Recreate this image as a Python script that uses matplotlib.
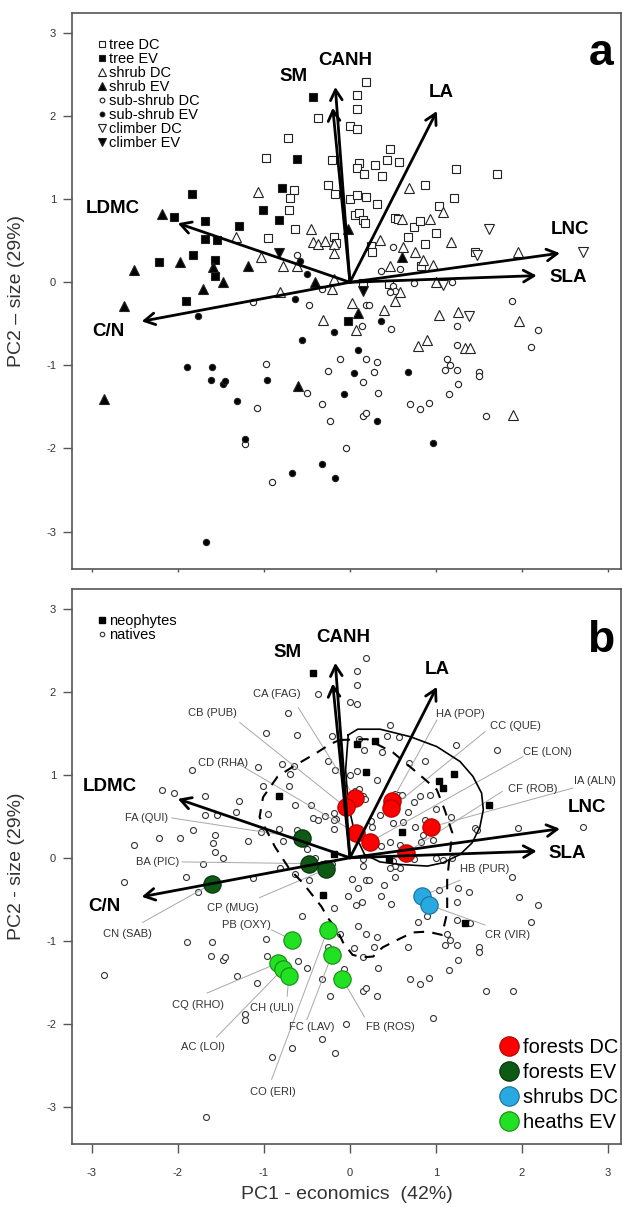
import matplotlib.pyplot as plt
from matplotlib.lines import Line2D

plt.rcParams['font.family'] = ['Liberation Sans', 'DejaVu Sans']
plt.rcParams['axes.unicode_minus'] = False

# species scores: (PC1, PC2, neophyte flag) by growth form and leaf habit
tree_dc = [
    (-0.37, 1.98, 0), (-0.72, 1.74, 0), (-0.98, 1.50, 0), (-0.21, 1.47, 0),
    (-0.25, 1.17, 0), (-0.17, 1.06, 0), (-0.65, 1.11, 0), (-0.70, 1.01, 0),
    (-0.71, 0.87, 0), (-0.64, 0.64, 0), (-0.95, 0.53, 0), (-0.19, 0.54, 0),
    (-0.16, 0.47, 0), (0.19, 2.41, 0), (0.08, 2.25, 0), (0.08, 2.08, 0),
    (0.00, 1.88, 0), (0.08, 1.85, 0), (0.47, 1.60, 0), (0.43, 1.47, 0),
    (0.57, 1.45, 0), (0.10, 1.43, 0), (0.08, 1.37, 1), (0.16, 1.30, 0),
    (0.29, 1.41, 1), (0.37, 1.28, 0), (1.23, 1.36, 0), (1.71, 1.30, 0),
    (0.87, 1.17, 0), (1.21, 1.01, 1), (0.00, 1.00, 0), (0.08, 1.05, 0),
    (0.19, 1.03, 1), (0.31, 0.94, 0), (0.06, 0.81, 0), (0.11, 0.83, 0),
    (0.15, 0.75, 0), (0.18, 0.71, 0), (1.03, 0.92, 1), (0.52, 0.77, 0),
    (0.56, 0.76, 0), (0.74, 0.67, 0), (0.81, 0.74, 0), (1.00, 0.59, 0),
    (0.67, 0.55, 0), (0.25, 0.44, 0), (0.26, 0.37, 0), (0.87, 0.46, 0),
    (0.83, 0.19, 0), (0.15, -0.01, 0), (0.45, -0.02, 1), (1.45, 0.36, 0),
]
tree_ev = [
    (-0.43, 2.23, 1), (-0.61, 1.48, 0), (-1.83, 1.06, 0), (-0.79, 1.13, 0),
    (-1.01, 0.87, 0), (-0.83, 0.75, 1), (-2.05, 0.78, 0), (-1.69, 0.74, 0),
    (-1.29, 0.68, 0), (-1.68, 0.52, 0), (-1.55, 0.51, 0), (-1.82, 0.33, 0),
    (-2.22, 0.24, 0), (-1.57, 0.27, 0), (-1.57, 0.07, 0), (-1.90, -0.23, 0),
    (-0.02, -0.46, 0),
]
shrub_dc = [
    (-1.07, 1.09, 0), (-0.45, 0.64, 0), (-1.32, 0.55, 0), (-0.43, 0.48, 0),
    (-0.37, 0.46, 0), (-0.29, 0.50, 0), (-0.19, 0.46, 0), (-0.19, 0.35, 0),
    (-1.03, 0.31, 0), (-0.78, 0.20, 0), (-0.62, 0.20, 0), (-0.81, -0.12, 0),
    (-0.21, -0.08, 0), (-0.31, -0.45, 1), (0.02, -0.25, 0), (0.39, -0.33, 0),
    (0.52, -0.23, 0), (1.03, -0.39, 0), (1.25, -0.36, 0), (0.07, -0.57, 0),
    (0.79, -0.77, 0), (0.89, -0.70, 0), (1.34, -0.79, 1), (1.39, -0.79, 0),
    (1.97, -0.47, 0), (1.89, -1.60, 0), (0.69, 1.14, 0), (1.08, 0.84, 1),
    (0.61, 0.76, 0), (0.93, 0.76, 0), (1.17, 0.49, 0), (0.35, 0.51, 0),
    (0.62, 0.43, 0), (0.76, 0.37, 0), (0.85, 0.27, 0), (0.97, 0.21, 0),
    (0.46, 0.19, 0), (0.58, -0.12, 0), (1.00, 0.00, 0), (1.95, 0.36, 0),
    (-0.19, 0.04, 1),
]
shrub_ev = [
    (-2.18, 0.82, 0), (-1.97, 0.24, 0), (-1.59, 0.18, 0), (-1.18, 0.20, 0),
    (-2.51, 0.15, 0), (-1.47, 0.00, 0), (-0.41, 0.00, 0), (-1.71, -0.08, 0),
    (-2.63, -0.29, 0), (-0.60, -1.25, 0), (-2.86, -1.41, 0), (0.09, -0.37, 0),
    (-0.02, 0.64, 0), (0.61, 0.31, 1),
]
subshrub_dc = [
    (-0.61, 0.33, 0), (-1.13, -0.24, 0), (-0.48, -0.27, 0), (-0.33, -0.08, 0),
    (-0.98, -0.98, 0), (-0.25, -1.07, 0), (-0.12, -0.92, 0), (-0.50, -1.33, 0),
    (-1.08, -1.51, 0), (-0.32, -1.46, 0), (-0.23, -1.67, 0), (-1.22, -1.95, 0),
    (-0.90, -2.40, 0), (0.19, -0.27, 0), (0.22, -0.27, 0), (0.14, -0.53, 0),
    (0.48, -0.56, 0), (1.24, -0.53, 0), (1.24, -0.75, 0), (0.19, -0.92, 0),
    (0.32, -0.96, 0), (0.28, -1.08, 0), (1.13, -0.92, 0), (1.16, -0.99, 0),
    (1.11, -1.05, 0), (1.24, -1.05, 0), (1.26, -1.23, 0), (0.15, -1.20, 0),
    (0.33, -1.33, 0), (0.15, -1.61, 0), (0.19, -1.57, 0), (0.70, -1.46, 0),
    (0.81, -1.52, 0), (0.92, -1.45, 0), (1.15, -1.35, 0), (-0.04, -2.00, 0),
    (1.88, -0.23, 0), (2.18, -0.57, 0), (2.10, -0.78, 0), (1.50, -1.08, 0),
    (1.50, -1.13, 0), (1.58, -1.61, 0), (0.50, 0.42, 0), (0.58, 0.16, 0),
    (0.36, 0.14, 0), (0.50, -0.04, 0), (0.52, -0.10, 0), (0.47, -0.12, 0),
    (0.74, -0.01, 0), (1.19, 0.00, 0),
]
subshrub_ev = [
    (-0.58, 0.26, 0), (-0.50, 0.10, 0), (-1.76, -0.41, 0), (-0.64, -0.20, 0),
    (-0.19, -0.60, 0), (-0.56, -0.70, 0), (-1.89, -1.02, 0), (-1.60, -1.02, 0),
    (-1.62, -1.18, 0), (-1.48, -1.23, 0), (-1.45, -1.19, 0), (-0.96, -1.18, 0),
    (-1.31, -1.43, 0), (-1.22, -1.88, 0), (-0.32, -2.19, 0), (-0.67, -2.29, 0),
    (-0.17, -2.35, 0), (-1.67, -3.12, 0), (0.36, -0.46, 0), (0.09, -0.82, 0),
    (0.05, -1.09, 0), (0.68, -1.08, 0), (-0.07, -1.34, 0), (0.31, -1.67, 0),
    (0.97, -1.93, 0),
]
climber_dc = [(1.38, -0.41, 0), (1.62, 0.64, 1), (1.48, 0.33, 0), (2.71, 0.37, 0),
              (1.08, -0.03, 0)]
climber_ev = [(-0.83, 0.35, 0), (0.15, -0.10, 0)]

# trait loadings (arrow tips)
traits = ['SM', 'CANH', 'LA', 'LNC', 'SLA', 'LDMC', 'C/N']
trait_pc1 = [-0.20, -0.17, 1.01, 2.44, 2.17, -2.00, -2.42]
trait_pc2 = [2.10, 2.35, 2.06, 0.35, 0.08, 0.71, -0.47]

# community centroids
communities = ['CA (FAG)', 'CB (PUB)', 'HA (POP)', 'CC (QUE)', 'CD (RHA)', 'CE (LON)',
               'IA (ALN)', 'CF (ROB)', 'FA (QUI)', 'BA (PIC)', 'CP (MUG)', 'CN (SAB)',
               'HB (PUR)', 'CR (VIR)', 'PB (OXY)', 'CO (ERI)', 'FC (LAV)', 'FB (ROS)',
               'CQ (RHO)', 'AC (LOI)', 'CH (ULI)']
comm_pc1 = [0.06, -0.05, 0.49, 0.48, 0.07, 0.23, 0.94, 0.65, -0.56, -0.47, -0.28, -1.60,
            0.84, 0.92, -0.67, -0.26, -0.21, -0.09, -0.84, -0.78, -0.71]
comm_pc2 = [0.72, 0.61, 0.69, 0.60, 0.30, 0.19, 0.37, 0.06, 0.24, -0.07, -0.14, -0.31,
            -0.46, -0.57, -0.99, -0.87, -1.17, -1.46, -1.27, -1.34, -1.43]
comm_group = ['forests DC'] * 8 + ['forests EV'] * 4 + ['shrubs DC'] * 2 + ['heaths EV'] * 7

groups = ['forests DC', 'forests EV', 'shrubs DC', 'heaths EV']
group_fill = ['#ff0000', '#0c5a14', '#29a9e2', '#22e022']
group_edge = ['#b40000', '#06300a', '#1b6f96', '#168a16']

# outlines drawn around community groups
solid_pc1 = [-0.02, 0.09, 0.35, 0.70, 1.01, 1.28, 1.43, 1.53, 1.55, 1.51, 1.42, 1.28,
             1.08, 0.90, 0.58, 0.35, 0.17, 0.06, -0.02, -0.05]
solid_pc2 = [1.48, 1.55, 1.55, 1.46, 1.34, 1.16, 0.98, 0.78, 0.58, 0.37, 0.18, 0.04,
             -0.06, -0.10, -0.08, -0.05, 0.04, 0.28, 0.64, 1.06]
dashed_pc1 = [-0.12, 0.20, 0.50, 0.81, 1.01, 1.10, 1.19, 1.16, 1.13, 1.13, 1.07, 0.90,
              0.73, 0.55, 0.38, 0.27, 0.15, 0.03, -0.08, -0.15, -0.26, -0.33, -0.55,
              -0.70, -0.87, -1.05, -1.01, -0.84, -0.66, -0.38, -0.23]
dashed_pc2 = [1.42, 1.43, 1.27, 1.00, 0.82, 0.58, 0.30, 0.04, -0.27, -0.66, -0.93, -0.89,
              -0.90, -0.99, -1.08, -1.19, -1.20, -1.17, -1.02, -0.87, -0.72, -0.59, -0.30,
              -0.14, 0.13, 0.49, 0.73, 0.98, 1.10, 1.27, 1.37]

# (label, rows, marker, filled, size)
forms = [
    ('tree DC', tree_dc, 's', False, 5.5),
    ('tree EV', tree_ev, 's', True, 5.5),
    ('shrub DC', shrub_dc, '^', False, 7),
    ('shrub EV', shrub_ev, '^', True, 7),
    ('sub-shrub DC', subshrub_dc, 'o', False, 4.5),
    ('sub-shrub EV', subshrub_ev, 'o', True, 4.5),
    ('climber DC', climber_dc, 'v', False, 7),
    ('climber EV', climber_ev, 'v', True, 7),
]

fig = plt.figure(figsize=(6.22, 12.09), dpi=100)
ax_a = fig.add_axes([72 / 622, 1 - 569 / 1209, 549 / 622, 556 / 1209])
ax_b = fig.add_axes([72 / 622, 1 - 1144 / 1209, 549 / 622, 555 / 1209])


def style_axes(ax, show_x):
    ax.set_xlim(-3.23, 3.15)
    ax.set_ylim(-3.45, 3.24)
    ax.set_xticks(range(-3, 4))
    ax.set_yticks(range(-3, 4))
    for s in ax.spines.values():
        s.set_color('#555555')
        s.set_linewidth(1.2)
    ax.tick_params(axis='y', direction='out', length=6.5, width=1, color='#555555',
                   labelsize=8, labelcolor='#333333', pad=5)
    if show_x:
        ax.tick_params(axis='x', direction='out', length=6.5, width=1, color='#555555',
                       labelsize=8, labelcolor='#333333', pad=11)
    else:
        ax.tick_params(axis='x', direction='out', length=2, width=1, color='#555555',
                       labelbottom=False)


def draw_traits(ax, label_pos):
    for name, x, y, (lx, ly) in zip(traits, trait_pc1, trait_pc2, label_pos):
        ax.annotate('', xy=(x, y), xytext=(0, 0), zorder=5,
                    arrowprops=dict(arrowstyle='->,head_length=0.75,head_width=0.42',
                                    color='black', lw=2.0, shrinkA=0, shrinkB=0))
        ax.text(lx, ly, name, fontsize=13.5, fontweight='bold', ha='center',
                va='center', zorder=6)


legend_style = dict(loc='upper left', bbox_to_anchor=(0.045, 0.955), frameon=False,
                    fontsize=10.5, handlelength=0.7, handletextpad=0.15, labelspacing=0.0,
                    borderaxespad=0, borderpad=0, markerscale=0.75)

# ---- panel a: species by growth form ----
style_axes(ax_a, False)
for name, rows, marker, filled, size in forms:
    xs = [r[0] for r in rows]
    ys = [r[1] for r in rows]
    ax_a.plot(xs, ys, ls='none', marker=marker, ms=size, mew=0.8,
              mfc='black' if filled else 'white', mec='#222222', label=name, zorder=3)

labels_a = [(-0.65, 2.48), (-0.05, 2.67), (1.06, 2.28), (2.56, 0.63), (2.54, 0.06),
            (-2.76, 0.89), (-2.81, -0.59)]
draw_traits(ax_a, labels_a)
ax_a.legend(**legend_style)
ax_a.text(0.963, 0.928, 'a', transform=ax_a.transAxes, fontsize=32, fontweight='bold',
          ha='center', va='center')
ax_a.set_ylabel('PC2 \u2013 size (29%)', fontsize=14, color='#333333')
ax_a.yaxis.set_label_coords(-0.085, 0.5)

# ---- panel b: natives / neophytes and community centroids ----
style_axes(ax_b, True)
all_rows = [r for _, rows, _, _, _ in forms for r in rows]
nat_x = [r[0] for r in all_rows if r[2] == 0]
nat_y = [r[1] for r in all_rows if r[2] == 0]
neo_x = [r[0] for r in all_rows if r[2] == 1]
neo_y = [r[1] for r in all_rows if r[2] == 1]
h_nat, = ax_b.plot(nat_x, nat_y, ls='none', marker='o', ms=4.3, mfc='white',
                   mec='#333333', mew=0.8, zorder=2)
h_neo, = ax_b.plot(neo_x, neo_y, ls='none', marker='s', ms=5, mfc='black', mec='black',
                   zorder=2.2)

ax_b.plot(solid_pc1 + solid_pc1[:1], solid_pc2 + solid_pc2[:1], color='black', lw=1.2,
          zorder=3)
ax_b.plot(dashed_pc1 + dashed_pc1[:1], dashed_pc2 + dashed_pc2[:1], color='black', lw=1.5,
          ls=(0, (5, 4)), zorder=3)

# label placement: text centre, line start
label_text = [(-0.85, 1.98), (-1.60, 1.75), (1.28, 1.73), (1.92, 1.59), (-1.48, 1.14),
              (2.30, 1.28), (2.85, 0.93), (2.13, 0.83), (-2.36, 0.48), (-2.24, -0.05),
              (-1.36, -0.60), (-2.59, -0.92), (1.57, -0.13), (1.83, -0.93), (-1.20, -0.81),
              (-0.90, -2.82), (-0.44, -2.04), (0.47, -2.04), (-1.77, -1.78), (-1.71, -2.28),
              (-0.91, -1.81)]
label_line = [(-0.60, 1.81), (-1.28, 1.63), (1.01, 1.66), (1.57, 1.52), (-1.31, 1.14),
              (2.01, 1.22), (2.59, 0.84), (1.77, 0.80), (-2.07, 0.48), (-1.95, -0.05),
              (-1.05, -0.48), (-2.41, -0.78), (1.28, -0.27), (1.57, -0.81), (-0.91, -0.87),
              (-0.91, -2.67), (-0.50, -1.95), (0.17, -1.92), (-1.66, -1.63), (-1.55, -2.16),
              (-0.73, -1.67)]
for name, x, y, (tx, ty), (sx, sy) in zip(communities, comm_pc1, comm_pc2, label_text,
                                         label_line):
    ax_b.plot([sx, x], [sy, y], color='#a8a8a8', lw=0.7, zorder=2.5)
    ax_b.text(tx, ty, name, fontsize=8, color='#333333', ha='center', va='center', zorder=6)

for x, y, g in zip(comm_pc1, comm_pc2, comm_group):
    i = groups.index(g)
    ax_b.plot(x, y, ls='none', marker='o', ms=12.5, mfc=group_fill[i], mec=group_edge[i],
              mew=0.8, zorder=4)

labels_b = [(-0.72, 2.47), (-0.08, 2.65), (1.02, 2.27), (2.75, 0.61), (2.53, 0.05),
            (-2.79, 0.86), (-2.85, -0.59)]
draw_traits(ax_b, labels_b)

leg1 = ax_b.legend([h_neo, h_nat], ['neophytes', 'natives'], **legend_style)
ax_b.add_artist(leg1)
group_handles = [Line2D([], [], ls='none', marker='o', ms=14, mfc=f, mec=e, mew=0.8)
                 for f, e in zip(group_fill, group_edge)]
ax_b.legend(group_handles, groups, loc='lower right', bbox_to_anchor=(0.995, 0.022),
            frameon=False, fontsize=14.5, handlelength=1.0, handletextpad=0.2,
            labelspacing=0.3, borderaxespad=0, borderpad=0)

ax_b.text(0.963, 0.908, 'b', transform=ax_b.transAxes, fontsize=32, fontweight='bold',
          ha='center', va='center')
ax_b.set_ylabel('PC2 - size (29%)', fontsize=14, color='#333333')
ax_b.yaxis.set_label_coords(-0.085, 0.5)
ax_b.set_xlabel('PC1 - economics  (42%)', fontsize=14, color='#333333')
ax_b.xaxis.set_label_coords(0.5, -0.075)

fig.savefig('out.png', dpi=100)
